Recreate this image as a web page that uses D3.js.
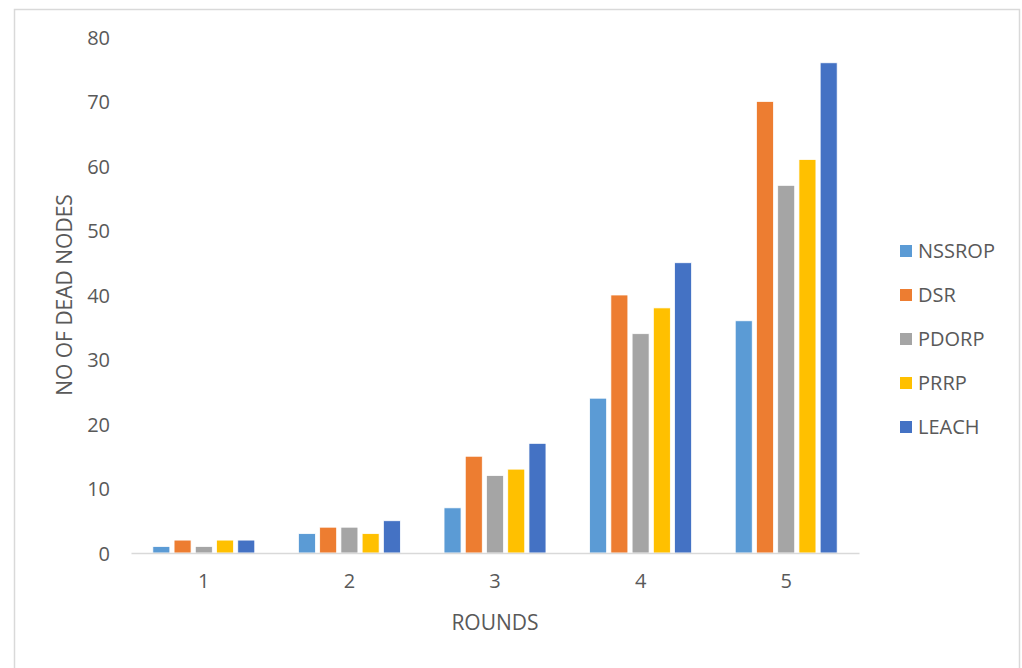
<!DOCTYPE html>
<html><head><meta charset="utf-8">
<script src="https://cdn.jsdelivr.net/npm/d3@7"></script>
<style>
html,body{margin:0;padding:0;background:#fff;}
svg{display:block;}
text{font-family:"Open Sans","Noto Sans",sans-serif;fill:#595959;}
</style></head>
<body>
<svg id="c" width="1022" height="668"></svg>
<script>
const rounds = ["1","2","3","4","5"];
const seriesNames = ["NSSROP","DSR","PDORP","PRRP","LEACH"];
const NSSROP = [1,3,7,24,36];
const DSR = [2,4,15,40,70];
const PDORP = [1,4,12,34,57];
const PRRP = [2,3,13,38,61];
const LEACH = [2,5,17,45,76];
const yTicks = [0,10,20,30,40,50,60,70,80];
const colors = ["#5B9BD5","#ED7D31","#A5A5A5","#FFC000","#4472C4"];

const seriesValues = [NSSROP,DSR,PDORP,PRRP,LEACH];
const svg = d3.select("#c");

svg.append("rect").attr("x",14.5).attr("y",9.5).attr("width",1005).attr("height",700)
  .attr("fill","#fff").attr("stroke","#D9D9D9").attr("stroke-width",1.5);

const x0 = d3.scaleBand().domain(rounds).range([131,859]).paddingInner(0.3).paddingOuter(0.15);
const x1 = d3.scaleBand().domain(seriesNames).range([0,x0.bandwidth()]).paddingInner(0.2);
const y = d3.scaleLinear().domain([0,80]).range([553,37]);

// y axis labels
const ya = svg.append("g").attr("transform","translate(110,0)")
  .call(d3.axisLeft(y).tickValues(yTicks).tickSize(0).tickPadding(0));
ya.select(".domain").remove();
ya.selectAll("text").style("font-size","20px").attr("dy","0.35em").attr("fill","#595959");

// bars
const g = svg.append("g");
rounds.forEach((r,i)=>{
  seriesNames.forEach((s,j)=>{
    g.append("rect")
      .attr("x",x0(r)+x1(s))
      .attr("y",y(seriesValues[j][i]))
      .attr("width",x1.bandwidth())
      .attr("height",y(0)-y(seriesValues[j][i]))
      .attr("fill",colors[j])
      .attr("stroke","#fff").attr("stroke-width",0.75);
  });
});

// x axis
const xa = svg.append("g").attr("transform","translate(0,553)")
  .call(d3.axisBottom(x0).tickSize(0).tickPadding(21).tickSizeOuter(0));
xa.select(".domain").attr("stroke","#D9D9D9").attr("stroke-width",1.5);
xa.selectAll("text").style("font-size","20px").attr("fill","#595959");

// axis titles
svg.append("text").attr("x",495).attr("y",630).attr("text-anchor","middle")
  .style("font-size","21px").text("ROUNDS");
svg.append("text").attr("transform","translate(72,295) rotate(-90)").attr("text-anchor","middle")
  .style("font-size","21px").text("NO OF DEAD NODES");

// legend
const lg = svg.append("g");
seriesNames.forEach((s,j)=>{
  const yy = 251 + j*44;
  lg.append("rect").attr("x",900).attr("y",yy-6).attr("width",12).attr("height",12).attr("fill",colors[j]);
  lg.append("text").attr("x",918).attr("y",yy).attr("dy","0.35em").style("font-size","20px").text(s);
});
</script>
</body></html>
